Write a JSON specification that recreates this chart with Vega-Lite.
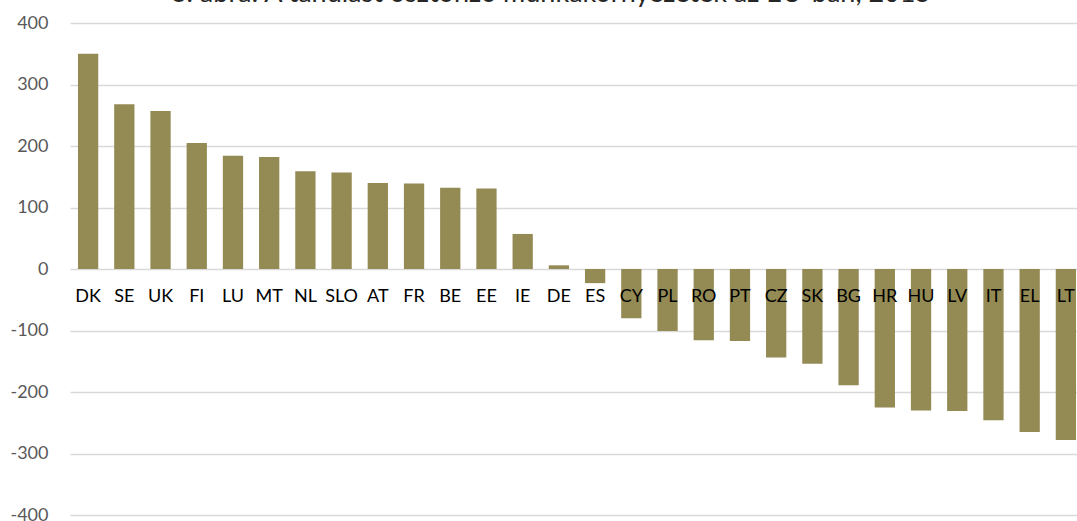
{
  "$schema": "https://vega.github.io/schema/vega-lite/v6.json",
  "autosize": {"type": "none"},
  "padding": {"left": 70, "top": 23, "right": 0, "bottom": 6},
  "width": 1014,
  "height": 492,
  "background": "white",
  "title": {
    "text": "3. ábra: A tanulást ösztönző munkakörnyezetek az EU-ban, 2015",
    "frame": "group",
    "anchor": "middle",
    "baseline": "alphabetic",
    "offset": 0,
    "dx": -26,
    "dy": 15,
    "font": "Lato",
    "fontSize": 27,
    "fontWeight": "normal",
    "color": "#262626"
  },
  "data": {
    "values": [
      {"country": "DK", "value": 350},
      {"country": "SE", "value": 268},
      {"country": "UK", "value": 257},
      {"country": "FI", "value": 205},
      {"country": "LU", "value": 184},
      {"country": "MT", "value": 182},
      {"country": "NL", "value": 159},
      {"country": "SLO", "value": 157},
      {"country": "AT", "value": 140},
      {"country": "FR", "value": 139},
      {"country": "BE", "value": 132},
      {"country": "EE", "value": 131},
      {"country": "IE", "value": 57},
      {"country": "DE", "value": 6},
      {"country": "ES", "value": -23},
      {"country": "CY", "value": -80},
      {"country": "PL", "value": -101},
      {"country": "RO", "value": -116},
      {"country": "PT", "value": -117},
      {"country": "CZ", "value": -144},
      {"country": "SK", "value": -154},
      {"country": "BG", "value": -189},
      {"country": "HR", "value": -225},
      {"country": "HU", "value": -230},
      {"country": "LV", "value": -231},
      {"country": "IT", "value": -246},
      {"country": "EL", "value": -265},
      {"country": "LT", "value": -278}
    ]
  },
  "mark": {"type": "bar", "color": "#948A54"},
  "encoding": {
    "x": {
      "field": "country",
      "type": "nominal",
      "sort": null,
      "scale": {"paddingInner": 0.44, "paddingOuter": 0.22},
      "axis": {
        "title": null,
        "orient": "bottom",
        "offset": -246,
        "domain": false,
        "ticks": false,
        "grid": false,
        "labelAngle": 0,
        "labelPadding": 18,
        "labelFont": "Lato",
        "labelFontSize": 18,
        "labelColor": "#000000",
        "zindex": 1
      }
    },
    "y": {
      "field": "value",
      "type": "quantitative",
      "scale": {"domain": [-400, 400], "nice": false},
      "axis": {
        "title": null,
        "values": [-400, -300, -200, -100, 0, 100, 200, 300, 400],
        "labelExpr": "'' + datum.value",
        "domain": false,
        "ticks": false,
        "grid": true,
        "gridColor": "#d9d9d9",
        "gridWidth": 1.5,
        "labelPadding": 22,
        "labelFont": "Lato",
        "labelFontSize": 18,
        "labelColor": "#595959"
      }
    }
  },
  "config": {
    "view": {"stroke": null}
  }
}
